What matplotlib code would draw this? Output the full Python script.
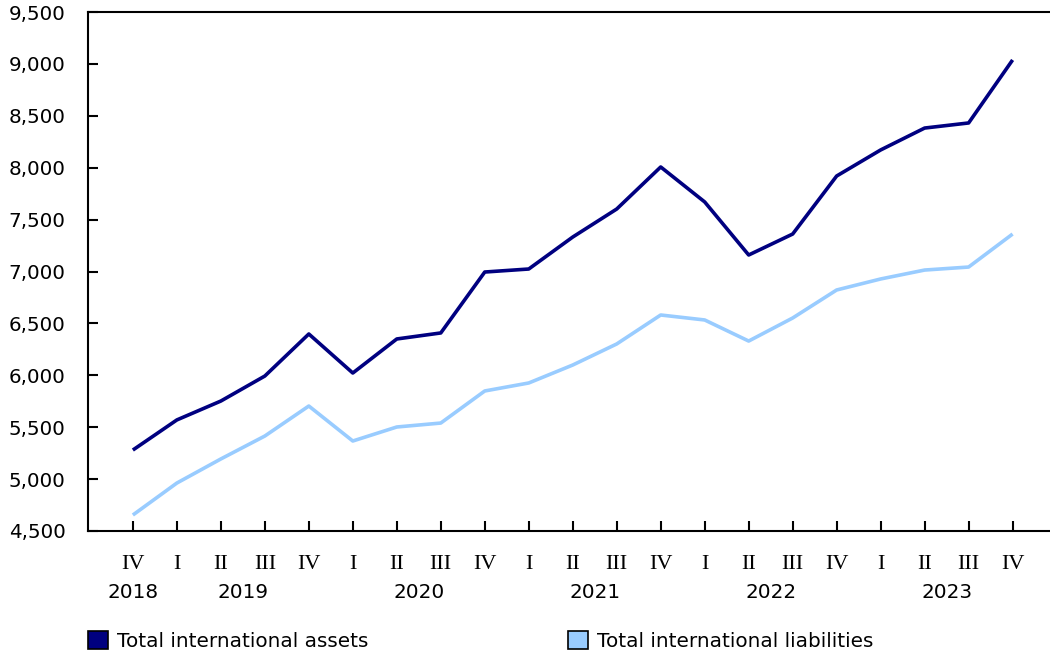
import matplotlib.pyplot as plt
from matplotlib.patches import Patch

# quarters from 2018 Q4 to 2023 Q4
quarters = ["IV", "I", "II", "III", "IV", "I", "II", "III", "IV", "I", "II",
            "III", "IV", "I", "II", "III", "IV", "I", "II", "III", "IV"]
years = ["2018", "2019", "2020", "2021", "2022", "2023"]
year_pos = [0, 2.5, 6.5, 10.5, 14.5, 18.5]

assets = [5280, 5570, 5752, 5993, 6398, 6022, 6350, 6408, 6995, 7024, 7332,
          7602, 8007, 7670, 7159, 7361, 7920, 8171, 8382, 8431, 9038]
liabilities = [4654, 4962, 5194, 5415, 5704, 5367, 5502, 5540, 5849, 5926, 6099,
               6302, 6581, 6533, 6330, 6552, 6822, 6928, 7014, 7043, 7361]

dark = "#000080"
light = "#99ccff"

fig = plt.figure(figsize=(10.5, 6.55), dpi=100)
ax = fig.add_axes([88 / 1050, 1 - 531 / 655, (1050 - 88) / 1050, (531 - 12) / 655])

x = list(range(len(quarters)))
ax.plot(x, liabilities, color=light, lw=2.6, solid_capstyle="butt")
ax.plot(x, assets, color=dark, lw=2.6, solid_capstyle="butt")

ax.set_xlim(-1.02, 20.85)
ax.set_ylim(4500, 9500)
ax.set_yticks(range(4500, 10000, 500))
ax.set_yticklabels([f"{v:,}" for v in range(4500, 10000, 500)], fontsize=14.3)
ax.tick_params(axis="y", direction="in", length=7, width=1.5, pad=16)

ax.set_xticks(x)
ax.set_xticklabels(quarters, fontsize=16, family="Liberation Serif")
ax.tick_params(axis="x", direction="in", length=7, width=1.5, pad=17)

for yr, p in zip(years, year_pos):
    ax.text(p, -0.119, yr, transform=ax.get_xaxis_transform(),
            ha="center", va="center", fontsize=14.4)

ax.spines["right"].set_visible(False)
for s in ["left", "bottom", "top"]:
    ax.spines[s].set_linewidth(1.5)

handles = [Patch(facecolor=dark, edgecolor="black", lw=1.2),
           Patch(facecolor=light, edgecolor="black", lw=1.2)]
leg_kw = dict(loc="center left", frameon=False, fontsize=14.4, borderpad=0,
              borderaxespad=0, handlelength=1.0, handleheight=1.0,
              handletextpad=0.45)
fig.legend(handles[:1], ["Total international assets"],
           bbox_to_anchor=(88 / 1050, 1 - 641 / 655), **leg_kw)
fig.legend(handles[1:], ["Total international liabilities"],
           bbox_to_anchor=(568 / 1050, 1 - 641 / 655), **leg_kw)

fig.savefig("out.png", dpi=100)
